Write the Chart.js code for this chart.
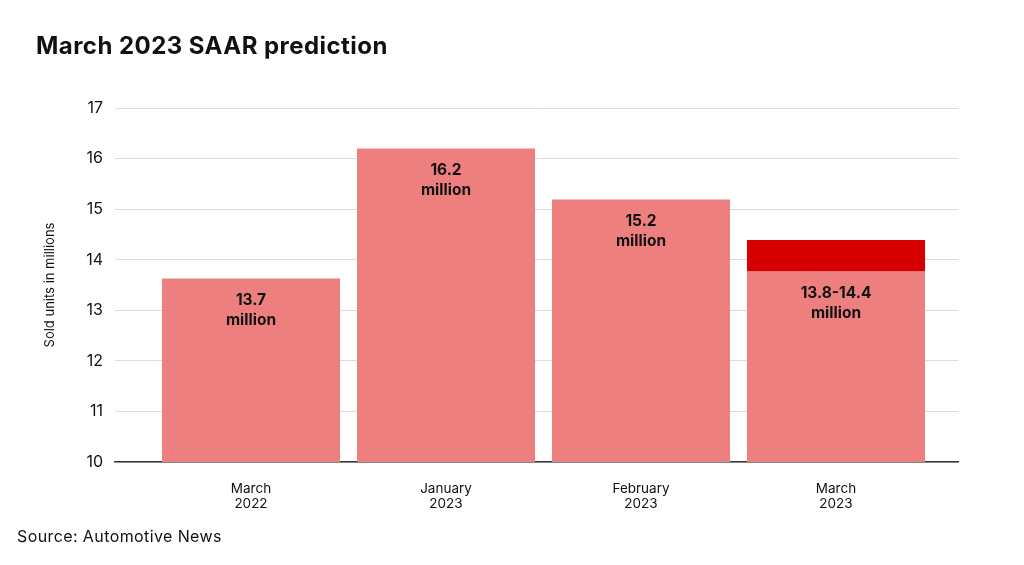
<!DOCTYPE html>
<html>
<head>
<meta charset="utf-8">
<script src="https://cdn.jsdelivr.net/npm/chart.js@4.4.0/dist/chart.umd.min.js"></script>
<style>
  html, body { margin: 0; padding: 0; background: #fff; }
  #wrap { position: relative; width: 1024px; height: 565px; overflow: hidden; }
  #title { position: absolute; left: 36px; top: 31px; font: bold 24px Inter, "Liberation Sans", Arial, sans-serif; color: #111; letter-spacing: 0.45px; }
  #source { position: absolute; left: 17px; top: 526px; font: 16px Inter, "Liberation Sans", Arial, sans-serif; color: #111; letter-spacing: 0.4px; }
  canvas { position: absolute; left: 0; top: 0; }
</style>
</head>
<body>
<div id="wrap">
  <canvas id="c" width="1024" height="565"></canvas>
  <div id="title">March 2023 SAAR prediction</div>
  <div id="source">Source: Automotive News</div>
</div>
<script>
const categories = [["March", "2022"], ["January", "2023"], ["February", "2023"], ["March", "2023"]];
const values = [13.63, 16.2, 15.19, 13.77];
const rangeLow = 13.77;
const rangeHigh = 14.39;
const rangeIndex = 3;
const valueLabels = ["13.7", "16.2", "15.2", "13.8-14.4"];
const yTicks = [10, 11, 12, 13, 14, 15, 16, 17];

const FONT = 'Inter, "Liberation Sans", Arial, sans-serif';

const labelPlugin = {
  id: 'barLabels',
  afterDatasetsDraw(chart) {
    const ctx = chart.ctx;
    const meta = chart.getDatasetMeta(0);
    ctx.save();
    ctx.fillStyle = '#111';
    ctx.textAlign = 'center';
    ctx.textBaseline = 'middle';
    ctx.font = 'bold 15.5px ' + FONT;
    meta.data.forEach((bar, i) => {
      const top = bar.y;
      ctx.fillText(valueLabels[i], bar.x, top + 22);
      ctx.fillText('million', bar.x, top + 42);
    });
    ctx.restore();
  }
};

new Chart(document.getElementById('c'), {
  type: 'bar',
  data: {
    datasets: [
      {
        data: values.map((v, i) => ({ x: i, y: v })),
        backgroundColor: '#ED7F7F',
        grouped: false,
        barPercentage: 0.913,
        categoryPercentage: 1,
        order: 2
      },
      {
        data: [{ x: rangeIndex, y: [rangeLow, rangeHigh] }],
        backgroundColor: '#D60000',
        grouped: false,
        barPercentage: 0.913,
        categoryPercentage: 1,
        order: 1
      }
    ]
  },
  options: {
    responsive: false,
    animation: false,
    layout: { padding: { left: 0, right: 66, top: 108, bottom: 0 } },
    plugins: { legend: { display: false }, tooltip: { enabled: false } },
    scales: {
      x: {
        type: 'linear',
        offset: false,
        min: -0.6974,
        max: 3.6256,
        afterFit(scale) { scale.height = 103; },
        grid: { display: false, drawTicks: false },
        border: { display: true, color: '#333', width: 1.5 },
        afterBuildTicks(scale) { scale.ticks = categories.map((c, i) => ({ value: i })); },
        ticks: {
          padding: 19,
          color: '#111',
          font: { family: FONT, size: 13.5, lineHeight: 1.15 },
          maxRotation: 0,
          autoSkip: false,
          callback: (v) => categories[v]
        }
      },
      y: {
        min: 10,
        max: 17,
        afterFit(scale) { scale.width = 115; },
        afterBuildTicks(scale) { scale.ticks = yTicks.map(v => ({ value: v })); },
        grid: { color: '#DDDDDD', lineWidth: 1, drawTicks: false },
        border: { display: false },
        ticks: {
          padding: 12,
          color: '#111',
          font: { family: FONT, size: 16 }
        },
        title: {
          display: true,
          text: 'Sold units in millions',
          color: '#111',
          font: { family: FONT, size: 13 },
          padding: { top: 42, bottom: 0 }
        }
      }
    }
  },
  plugins: [labelPlugin]
});
</script>
</body>
</html>
